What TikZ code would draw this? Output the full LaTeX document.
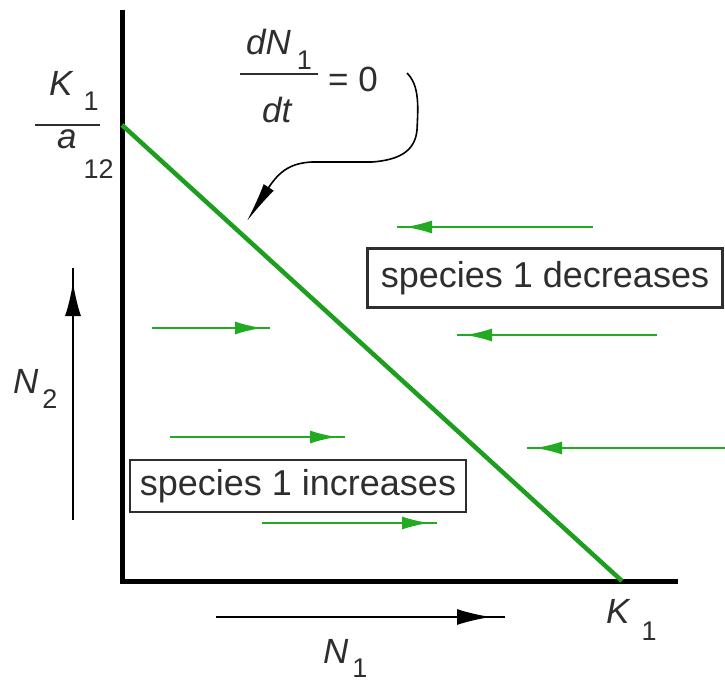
\documentclass[tikz,border=0pt]{standalone}
\usepackage{fontspec}
\setmainfont{Liberation Sans}
\usetikzlibrary{arrows.meta,decorations.markings}
\definecolor{nullgreen}{HTML}{1E9E1E}
\definecolor{flowgreen}{HTML}{22AA22}
\definecolor{ink}{HTML}{2E2E2E}
% subscript set low and apart: [lowering]{kern}{digits}
\newcommand{\lowidx}[3][16pt]{\kern#2\raisebox{-#1}{\fontsize{27}{27}\selectfont #3}}

\begin{document}
\begin{tikzpicture}[x=1pt, y=-1pt,
  mlbl/.style={inner sep=0pt, text=ink, font=\fontsize{35}{40}\selectfont},
  regionbox/.style={draw=ink, line width=2.2pt, text=ink, inner sep=0pt, font=\fontsize{36}{40}\selectfont},
  flow/.style={flowgreen, line width=1.8pt, postaction={decorate},
    decoration={markings, mark=at position -8pt with {\arrow{Latex[length=27pt,width=13pt]}}}},
  axisdir/.style={black, line width=2pt, postaction={decorate},
    decoration={markings, mark=at position -14pt with {\arrow{Latex[length=34pt,width=16pt]}}}}]
\useasboundingbox (0,0) rectangle (725,685);

% axes and the isocline
\coordinate (ytop) at (122,10);
\coordinate (origin) at (122,581);
\coordinate (xend) at (678,581);
\coordinate (kaint) at (122,125);
\coordinate (k1int) at (622,581);
\draw[black, line width=5pt, line join=miter] (ytop) -- (origin) -- (xend);
\draw[nullgreen, line width=4.5pt] (kaint) -- (k1int);

% intercept labels
\node[mlbl, anchor=base west] (kanum) at (49,95) {{\itshape K}\lowidx[15pt]{11pt}{1}};
\node[mlbl, anchor=base west] (kaden) at (57,148) {{\itshape a}\lowidx[30pt]{7pt}{12}};
\draw[ink, line width=2pt] (35,125) -- (100,125);
\node[mlbl, anchor=base west] (k1lbl) at (606,623) {{\itshape K}\lowidx[17pt]{12pt}{1}};

% isocline label and its pointer
\node[mlbl, anchor=base west] (dnum) at (246,55) {{\itshape dN}\lowidx[15pt]{6pt}{1}};
\node[mlbl, anchor=base west] (dden) at (262,122) {\itshape dt};
\draw[ink, line width=2pt] (240,74) -- (318,74);
\node[mlbl, anchor=base west] (eqzero) at (328,92) {= 0};
\coordinate (curlstart) at (407,73);
\coordinate (curltip) at (247,221);
\draw[black, line width=1.6pt, -{Latex[length=40pt,width=12pt]}] (curlstart)
  .. controls (420,86) and (418,108) .. (417,130)
  .. controls (415,152) and (398,160) .. (372,162) -- (312,162)
  .. controls (292,163) and (280,170) .. (curltip);

% region boxes
\node[regionbox, minimum width=355pt, minimum height=59pt] (decr) at (545,278) {species 1 decreases};
\node[regionbox, minimum width=336pt, minimum height=52pt] (incr) at (298,486) {species 1 increases};

% direction of change
\foreach \xa/\xb/\yy in {593/397/227, 657/457/335, 725/527/448, 152/270/328, 170/345/437, 262/437/523}
  \draw[flow] (\xa,\yy) -- (\xb,\yy);

% axis directions
\coordinate (n1from) at (216,617);
\coordinate (n1to) at (505,617);
\draw[axisdir] (n1from) -- (n1to);
\node[mlbl, anchor=base west] (n1lbl) at (323,663) {{\itshape N}\lowidx[14pt]{4pt}{1}};
\coordinate (n2from) at (73,520);
\coordinate (n2to) at (73,268);
\draw[axisdir] (n2from) -- (n2to);
\node[mlbl, anchor=base west] (n2lbl) at (13,393) {{\itshape N}\lowidx[15pt]{4pt}{2}};
\end{tikzpicture}
\end{document}
